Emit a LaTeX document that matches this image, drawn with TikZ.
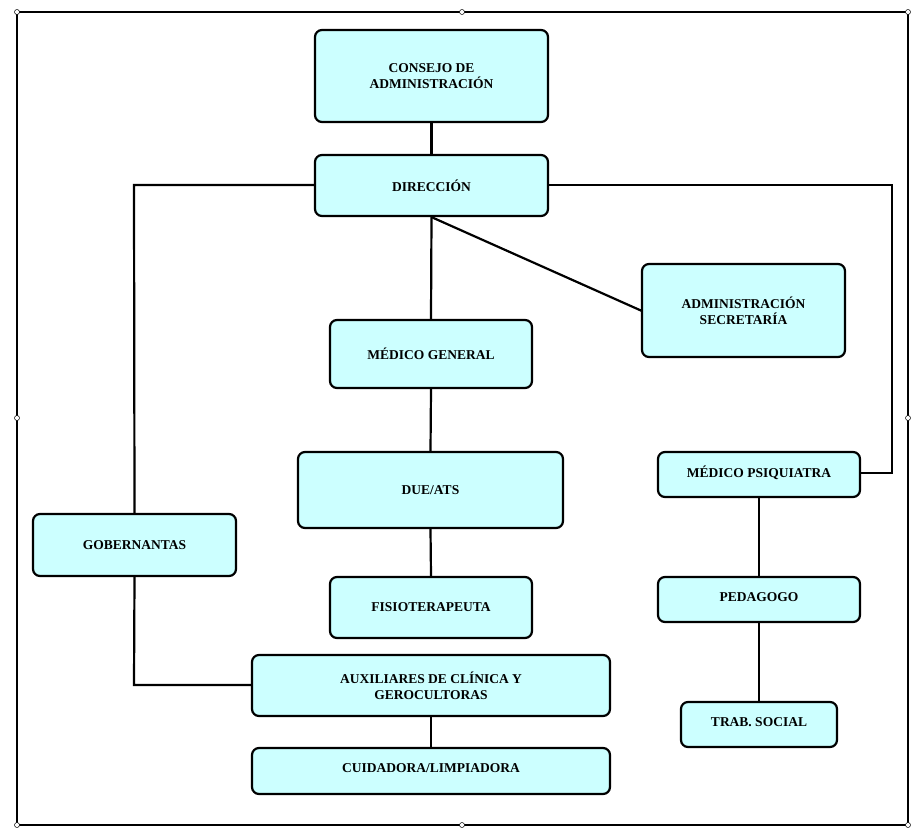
\documentclass[tikz,border=0pt]{standalone}
\usepackage{fontspec}
\setmainfont{Liberation Serif}
\begin{document}
\begin{tikzpicture}[x=1pt,y=-1pt,
 box/.style={draw=black,line width=2.2pt,fill={rgb,255:red,204;green,255;blue,255},rounded corners=7pt,font=\bfseries\fontsize{13.5}{16}\selectfont,align=center,inner sep=0pt},
 ln/.style={line width=2.2pt},
 hd/.style={draw=black,fill=white,line width=0.5pt,circle,inner sep=0pt,minimum size=5pt}]
\useasboundingbox (0,0) rectangle (924,840);
\draw[line width=1.2pt] (17,12) rectangle (908,825);
\foreach \p in {(17,12),(462,12),(908,12),(17,418),(908,418),(17,825),(462,825),(908,825)} \node[hd] at \p {};
\newcommand\bx[6]{\node[box,minimum width=#4-#2,minimum height=#5-#3] (#1) at ({(#2+#4)/2},{(#3+#5)/2}) {#6};}
\bx{cons}{315}{30}{548}{122}{CONSEJO DE\\ADMINISTRACIÓN}
\bx{dir}{315}{155}{548}{216}{\raisebox{-6pt}{DIRECCIÓN}}
\bx{adm}{642}{264}{845}{357}{ADMINISTRACIÓN\\SECRETARÍA}
\bx{mg}{330}{320}{532}{388}{MÉDICO GENERAL}
\bx{due}{298}{452}{563}{528}{DUE/ATS}
\bx{psi}{658}{452}{860}{497}{\raisebox{5pt}{MÉDICO PSIQUIATRA}}
\bx{gob}{33}{514}{236}{576}{GOBERNANTAS}
\bx{fis}{330}{577}{532}{638}{FISIOTERAPEUTA}
\bx{ped}{658}{577}{860}{622}{\raisebox{5pt}{PEDAGOGO}}
\bx{aux}{252}{655}{610}{716}{AUXILIARES DE CLÍNICA Y\\GEROCULTORAS}
\bx{tra}{681}{702}{837}{747}{\raisebox{5pt}{TRAB. SOCIAL}}
\bx{cui}{252}{748}{610}{794}{\raisebox{5pt}{CUIDADORA/LIMPIADORA}}
\coordinate (dl) at (315,185);
\coordinate (dr) at (548,185);
\coordinate (pr) at (860,473);
\coordinate (al) at (252,685);
\coordinate (ad) at (642,311);
\begin{scope}[on background layer/.style={}]
\draw[ln] (cons.south) -- (dir.north);
\draw[ln] (dl) -- (134,185) -- (gob.north);
\draw[ln] (gob.south) -- (134,685) -- (al);
\draw[ln] (dr) -- (892,185) -- (892,473) -- (pr);
\draw[ln] (dir.south) -- (mg.north);
\draw[ln] (dir.south) -- (ad);
\draw[ln] (mg.south) -- (due.north);
\draw[ln] (due.south) -- (fis.north);
\draw[ln] (aux.south) -- (cui.north);
\draw[ln] (psi.south) -- (ped.north);
\draw[ln] (ped.south) -- (tra.north);
\end{scope}
\end{tikzpicture}
\end{document}
